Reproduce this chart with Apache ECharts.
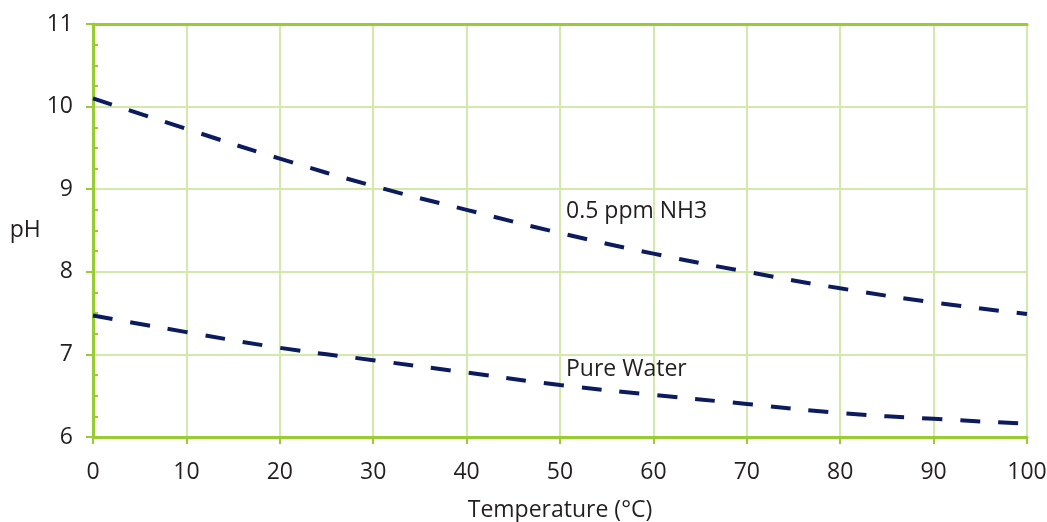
<!DOCTYPE html>
<html>
<head>
<meta charset="utf-8">
<script src="https://cdn.jsdelivr.net/npm/echarts@6/dist/echarts.min.js"></script>
<style>
  html, body { margin: 0; padding: 0; background: #fff; }
  #container { width: 1047px; height: 522px; }
</style>
</head>
<body>
<div id="container"></div>
<script>
// temperature in degC
var temps = [0, 10, 20, 30, 40, 50, 60, 70, 80, 90, 100];
// pH readings
var nh3 = [10.1, 9.73, 9.37, 9.04, 8.75, 8.47, 8.22, 8.0, 7.8, 7.63, 7.49];
var pureWater = [7.47, 7.27, 7.08, 6.93, 6.78, 6.63, 6.51, 6.4, 6.29, 6.22, 6.16];

var labelIdx = 5;

var dom = document.getElementById('container');
var myChart = echarts.init(dom);

var axisGreen = '#99cc33';
var gridGreen = '#d3e9aa';
var lineBlue = '#0b1b5e';
var textColor = '#231f20';
var font = 'Open Sans';
var fontSize = 23;
var fontWeight = 500;

function pairs(ys) {
    return temps.map(function (t, i) { return [t, ys[i]]; });
}

function seriesFor(name, ys, text, offY) {
    return {
        name: name,
        type: 'line',
        data: pairs(ys),
        showSymbol: false,
        smooth: true,
        lineStyle: { color: lineBlue, width: 4, type: [20, 18] },
        markPoint: {
            symbol: 'circle',
            symbolSize: 0,
            data: [{ coord: [temps[labelIdx], ys[labelIdx]] }],
            label: {
                show: true,
                formatter: text,
                position: [6, offY],
                color: textColor,
                fontFamily: font,
                fontWeight: fontWeight,
                fontSize: fontSize
            }
        }
    };
}

var option = {
    animation: false,
    grid: { left: 93, right: 20, top: 24, bottom: 85, outerBoundsMode: 'none' },
    xAxis: [{
        type: 'value',
        min: 0,
        max: 100,
        interval: 10,
        name: 'Temperature (\u00b0C)',
        nameLocation: 'middle',
        nameGap: 62,
        nameTextStyle: { color: textColor, fontFamily: font, fontWeight: fontWeight, fontSize: fontSize },
        axisLine: { lineStyle: { color: axisGreen, width: 3 } },
        axisTick: { show: true, length: 7, lineStyle: { color: axisGreen, width: 2 } },
        axisLabel: { margin: 24, color: textColor, fontFamily: font, fontWeight: fontWeight, fontSize: fontSize },
        splitLine: { show: true, lineStyle: { color: gridGreen, width: 2 } }
    }, {
        type: 'value',
        position: 'top',
        min: 0,
        max: 100,
        axisLine: { show: true, lineStyle: { color: axisGreen, width: 3 } },
        axisTick: { show: false },
        axisLabel: { show: false },
        splitLine: { show: false }
    }],
    yAxis: {
        type: 'value',
        min: 6,
        max: 11,
        interval: 1,
        name: 'pH',
        nameLocation: 'middle',
        nameRotate: 0,
        nameGap: 46,
        nameTextStyle: { color: textColor, fontFamily: font, fontWeight: fontWeight, fontSize: fontSize },
        axisLine: { show: true, lineStyle: { color: axisGreen, width: 3 } },
        axisTick: { show: true, length: 7, lineStyle: { color: axisGreen, width: 2 } },
        minorTick: { show: true, splitNumber: 4, length: -5, lineStyle: { color: axisGreen, width: 2 } },
        axisLabel: { margin: 20, color: textColor, fontFamily: font, fontWeight: fontWeight, fontSize: fontSize },
        splitLine: { show: true, lineStyle: { color: gridGreen, width: 2 } }
    },
    series: [
        seriesFor('0.5 ppm NH3', nh3, '0.5 ppm NH3', -33),
        seriesFor('Pure Water', pureWater, 'Pure Water', -27)
    ]
};

myChart.setOption(option);
</script>
</body>
</html>
